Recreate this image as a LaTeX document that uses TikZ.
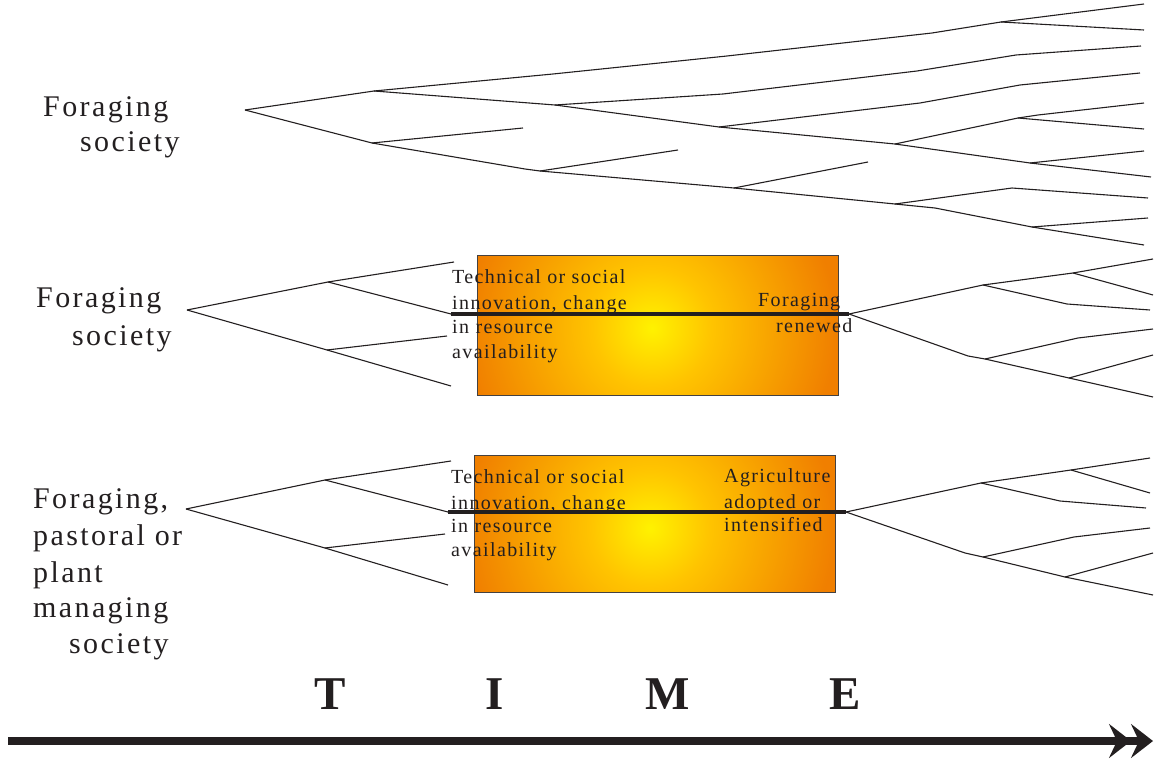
\documentclass[tikz,border=0pt]{standalone}
\usepackage{fontspec}
\setmainfont{Liberation Serif}
\usetikzlibrary{arrows.meta}

\definecolor{ink}{HTML}{231F20}
\definecolor{glowin}{HTML}{FFF200}
\definecolor{glowmid}{HTML}{FFC400}
\definecolor{glowout}{HTML}{F07F00}
\pgfdeclareradialshading{glow}{\pgfpoint{0bp}{0bp}}{color(0bp)=(glowin); color(8bp)=(glowmid); color(25bp)=(glowout); color(50bp)=(glowout)}

\tikzset{
	twig/.style={draw=ink, line width=1.1pt},
	bar/.style={draw=ink, line width=4pt},
	frame/.style={draw=ink!85, line width=1pt},
	society/.style={anchor=base west, inner sep=0pt, text=ink, font=\fontsize{30}{36}\selectfont\addfontfeatures{LetterSpace=8}},
	boxtext/.style={anchor=base west, inner sep=0pt, text=ink, font=\fontsize{20}{25}\selectfont\addfontfeatures{LetterSpace=7}},
	letter/.style={anchor=base, inner sep=0pt, text=ink, font=\fontsize{47}{50}\selectfont\bfseries},
	timeline/.style={draw=ink, line width=8pt, -{Stealth[length=22pt,width=34pt,inset=8pt] Stealth[length=22pt,width=34pt,inset=8pt]}}
}

\begin{document}
\begin{tikzpicture}[x=1pt,y=-1pt]
				\useasboundingbox (0,0) rectangle (1154,759);
				
				% first row: foraging society branching on
				\node[society] (F1) at (43,117) {Foraging};
				\node[society] (S1) at (80,152) {society};
				
				\coordinate (t0) at (245,110);
				\coordinate (ta) at (374,91);
				\coordinate (tb) at (372,143);
				\coordinate (tc) at (555,105);
				\coordinate (td) at (719,127);
				\coordinate (te) at (895,144);
				\coordinate (tf) at (1018,118);
				\coordinate (tg) at (1030,163);
				\coordinate (th) at (540,171);
				\coordinate (ti) at (734,188);
				\coordinate (tj) at (895,204);
				\coordinate (tk) at (1032,227);
				\coordinate (tn) at (1001,22);
				
				\draw[twig] (t0) -- (ta);
				\draw[twig] (t0) -- (tb);
				\draw[twig] (ta) -- (553,74) -- (727,56) -- (932,33) -- (tn);
				\draw[twig] (tn) -- (1144,4);
				\draw[twig] (tn) -- (1144,30);
				\draw[twig] (ta) -- (tc);
				\draw[twig] (tc) -- (723,94) -- (917,71) -- (1016,55) -- (1141,46);
				\draw[twig] (tc) -- (td);
				\draw[twig] (td) -- (920,103) -- (1020,85) -- (1140,73);
				\draw[twig] (td) -- (te);
				\draw[twig] (te) -- (tf);
				\draw[twig] (tf) -- (1038,115) -- (1144,103);
				\draw[twig] (tf) -- (1144,129);
				\draw[twig] (te) -- (tg);
				\draw[twig] (tg) -- (1144,151);
				\draw[twig] (tg) -- (1151,177);
				\draw[twig] (tb) -- (523,128);
				\draw[twig] (tb) -- (525,169) -- (th);
				\draw[twig] (th) -- (678,150);
				\draw[twig] (th) -- (ti);
				\draw[twig] (ti) -- (868,162);
				\draw[twig] (ti) -- (tj);
				\draw[twig] (tj) -- (1012,188) -- (1148,198);
				\draw[twig] (tj) -- (935,208) -- (tk);
				\draw[twig] (tk) -- (1148,218);
				\draw[twig] (tk) -- (1144,245);
				
				% second row: foraging renewed
				\node[society] (F2) at (36,308) {Foraging};
				\node[society] (S2) at (72,345) {society};
				
				\coordinate (m0) at (187,310);
				\coordinate (ma) at (328,282);
				\coordinate (mb) at (327,350);
				\coordinate (ml) at (451,314);
				\coordinate (mr) at (849,314);
				\coordinate (mc) at (983,285);
				\coordinate (md) at (1073,273);
				\coordinate (me) at (985,359);
				\coordinate (mf) at (1069,378);
				
				\draw[twig] (m0) -- (ma);
				\draw[twig] (m0) -- (mb);
				\draw[twig] (ma) -- (454,262);
				\draw[twig] (ma) -- (ml);
				\draw[twig] (mb) -- (447,336);
				\draw[twig] (mb) -- (451,386);
				\draw[twig] (mr) -- (mc);
				\draw[twig] (mc) -- (md);
				\draw[twig] (md) -- (1153,259);
				\draw[twig] (md) -- (1153,295);
				\draw[twig] (mc) -- (1067,304) -- (1150,310);
				\draw[twig] (mr) -- (968,356) -- (me);
				\draw[twig] (me) -- (1078,338) -- (1153,329);
				\draw[twig] (me) -- (mf);
				\draw[twig] (mf) -- (1153,355);
				\draw[twig] (mf) -- (1153,397);
				
				\begin{scope}
					\clip (477,256) rectangle (838,395);
					\fill[glowout] (477,256) rectangle (838,395);
					\shade[shading=glow] (652,328) circle (185);
				\end{scope}
				\draw[frame] (477,256) rectangle (838,395);
				
				\node[boxtext] (T21) at (452,284) {Technical or social};
				\node[boxtext] (T22) at (452,309) {innovation, change};
				\node[boxtext] (T23) at (452,334) {in resource};
				\node[boxtext] (T24) at (452,358) {availability};
				\node[boxtext] (R21) at (758,307) {Foraging};
				\node[boxtext] (R22) at (776,333) {renewed};
				
				\draw[bar] (ml) -- (mr);
				
				% third row: agriculture adopted
				\node[society] (F3) at (33,508) {Foraging,};
				\node[society] (P3) at (33,545) {pastoral or};
				\node[society] (L3) at (33,582) {plant};
				\node[society] (M3) at (33,617) {managing};
				\node[society] (S3) at (69,653) {society};
				
				\coordinate (b0) at (186,509);
				\coordinate (ba) at (325,480);
				\coordinate (bb) at (325,548);
				\coordinate (bl) at (448,512);
				\coordinate (br) at (846,512);
				\coordinate (bc) at (981,483);
				\coordinate (bd) at (1071,470);
				\coordinate (be) at (983,557);
				\coordinate (bf) at (1065,577);
				
				\draw[twig] (b0) -- (ba);
				\draw[twig] (b0) -- (bb);
				\draw[twig] (ba) -- (451,461);
				\draw[twig] (ba) -- (bl);
				\draw[twig] (bb) -- (445,534);
				\draw[twig] (bb) -- (448,585);
				\draw[twig] (br) -- (bc);
				\draw[twig] (bc) -- (bd);
				\draw[twig] (bd) -- (1150,458);
				\draw[twig] (bd) -- (1150,493);
				\draw[twig] (bc) -- (1060,501) -- (1146,508);
				\draw[twig] (br) -- (965,553) -- (be);
				\draw[twig] (be) -- (1074,537) -- (1150,528);
				\draw[twig] (be) -- (bf);
				\draw[twig] (bf) -- (1153,553);
				\draw[twig] (bf) -- (1153,595);
				
				\begin{scope}
					\clip (474,455) rectangle (835,592);
					\fill[glowout] (474,455) rectangle (835,592);
					\shade[shading=glow] (650,528) circle (185);
				\end{scope}
				\draw[frame] (474,455) rectangle (835,592);
				
				\node[boxtext] (T31) at (451,483) {Technical or social};
				\node[boxtext] (T32) at (451,509) {innovation, change};
				\node[boxtext] (T33) at (451,532) {in resource};
				\node[boxtext] (T34) at (451,556) {availability};
				\node[boxtext] (R31) at (724,482) {Agriculture};
				\node[boxtext] (R32) at (724,508) {adopted or};
				\node[boxtext] (R33) at (724,531) {intensified};
				
				\draw[bar] (bl) -- (br);
				
				% time axis
				\node[letter] (LT) at (330,709) {T};
				\node[letter] (LI) at (495,709) {I};
				\node[letter] (LM) at (668,709) {M};
				\node[letter] (LE) at (845,709) {E};
				
				\coordinate (tail) at (8,741);
				\coordinate (head) at (1153,741);
				\draw[timeline] (tail) -- (head);
				
			\end{tikzpicture}
\end{document}
